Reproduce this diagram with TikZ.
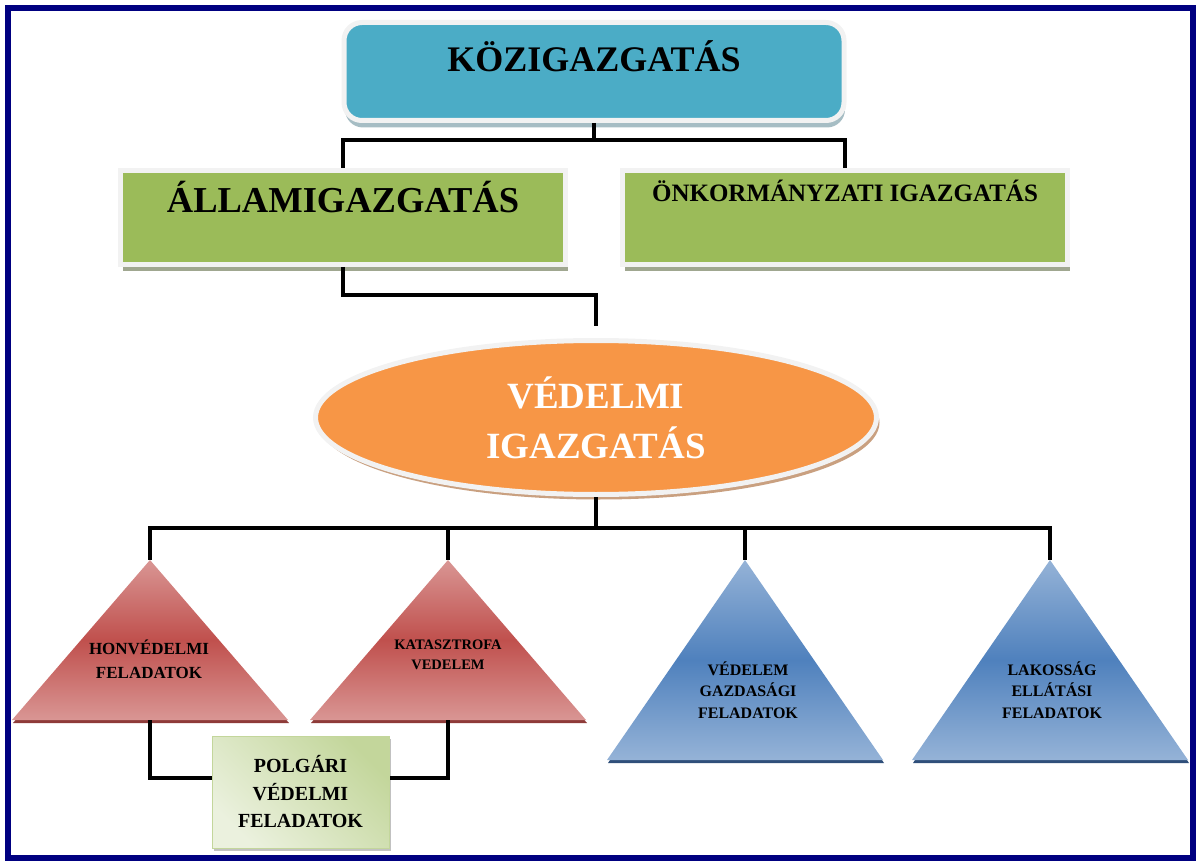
\documentclass[tikz,border=0pt]{standalone}
\usepackage{fontspec}
\setmainfont{Liberation Serif}
\usetikzlibrary{shapes.geometric,shadows,positioning}

\definecolor{kozkek}{HTML}{4BACC6}
\definecolor{zold}{HTML}{9BBB59}
\definecolor{perem}{HTML}{F2F2F2}
\definecolor{narancs}{HTML}{F79646}
\definecolor{narancsarny}{HTML}{C9A080}
\definecolor{pirosvil}{HTML}{D99694}
\definecolor{pirossot}{HTML}{C0504D}
\definecolor{pirosarny}{HTML}{8E3B39}
\definecolor{kekvil}{HTML}{95B3D7}
\definecolor{keksot}{HTML}{4F81BD}
\definecolor{kekarny}{HTML}{2F4F7A}
\definecolor{polgvil}{HTML}{EBF1DE}
\definecolor{polgsot}{HTML}{C3D69B}
\definecolor{keret}{HTML}{000080}

\begin{document}
\begin{tikzpicture}[x=1pt,y=-1pt,
  conn/.style={line width=4pt,black},
  fobox/.style={rectangle,rounded corners=18pt,fill=kozkek,draw=perem,line width=5pt,
    minimum width=500pt,minimum height=98pt,inner sep=0pt,
    drop shadow={shadow xshift=1pt,shadow yshift=-7pt,fill=gray!60!kozkek,opacity=.6}},
  zoldbox/.style={rectangle,fill=zold,draw=perem,line width=5pt,
    minimum width=445pt,minimum height=94pt,inner sep=0pt,
    drop shadow={shadow xshift=2pt,shadow yshift=-7pt,fill=gray!70!zold,opacity=.8}},
  ellip/.style={ellipse,fill=narancs,draw=perem,line width=5pt,
    minimum width=561pt,minimum height=154pt,inner sep=0pt,text=white,
    drop shadow={shadow xshift=3pt,shadow yshift=-5pt,fill=narancsarny,opacity=1}},
  piros/.style={top color=pirosvil,bottom color=pirosvil,middle color=pirossot,
    drop shadow={shadow xshift=1pt,shadow yshift=-3pt,fill=pirosarny,opacity=1}},
  kek/.style={top color=kekvil,bottom color=kekvil,middle color=keksot,
    drop shadow={shadow xshift=1pt,shadow yshift=-3pt,fill=kekarny,opacity=1}},
  feladat/.style={align=center,inner sep=0pt},
  polgbox/.style={rectangle,top color=polgsot,bottom color=polgvil,shading angle=-45,
    draw=polgsot,line width=1pt,minimum width=177pt,minimum height=112pt,align=center,
    drop shadow={shadow xshift=2pt,shadow yshift=-3pt,fill=gray!60,opacity=.8}}]
 \useasboundingbox (0,0) rectangle (1200,861);
 \draw[keret,line width=6pt] (8,8) rectangle (1193,858);
 %NODES
 \node[fobox,text height=26pt,text depth=25pt,font=\bfseries\fontsize{36}{40}\selectfont]
   (koz) at (594,71.5) {KÖZIGAZGATÁS};
 \node[zoldbox,text height=28pt,text depth=37pt,font=\bfseries\fontsize{36.5}{40}\selectfont]
   (allami) at (343,217.5) {ÁLLAMIGAZGATÁS};
 \node[zoldbox,text height=20pt,text depth=51pt,font=\bfseries\fontsize{25}{28}\selectfont]
   (onkorm) at (845,217.5) {ÖNKORMÁNYZATI IGAZGATÁS};
 \node[ellip,align=center,font=\bfseries\fontsize{37}{50}\selectfont]
   (vedelmi) at (596,417.5) {VÉDELMI\\IGAZGATÁS};
 % triangles
 \path[piros] (150,560) coordinate (honv-t) -- (288,720) -- (150,720) coordinate (honv-b) -- (12,720) -- cycle;
 \path[piros] (448,560) coordinate (katv-t) -- (586,720) -- (448,720) coordinate (katv-b) -- (310,720) -- cycle;
 \path[kek] (745,560) coordinate (gazd-t) -- (883,760) -- (607,760) -- cycle;
 \path[kek] (1050,560) coordinate (lakos-t) -- (1188,760) -- (912,760) -- cycle;
 \node[feladat,font=\bfseries\fontsize{17}{24}\selectfont] (honv) at (149,659) {HONVÉDELMI\\FELADATOK};
 \node[feladat,font=\bfseries\fontsize{14.5}{20}\selectfont] (katv) at (448,655) {KATASZTROFA\\VEDELEM};
 \node[feladat,font=\bfseries\fontsize{16}{21.5}\selectfont] (gazd) at (748,690) {VÉDELEM\\GAZDASÁGI\\FELADATOK};
 \node[feladat,font=\bfseries\fontsize{16}{21.5}\selectfont] (lakos) at (1052,690) {LAKOSSÁG\\ELLÁTÁSI\\FELADATOK};
 \node[polgbox,font=\bfseries\fontsize{20}{27.5}\selectfont] (polg) at (300.5,792) {POLGÁRI\\VÉDELMI\\FELADATOK};
 %EDGES
 \draw[conn] (koz.south) -- ++(0,17);
 \draw[conn] (allami.north) -- ++(0,-28) -| (onkorm.north);
 \draw[conn] (allami.south) -- ++(0,28) -| ([yshift=12pt]vedelmi.north);
 \draw[conn] (vedelmi.south) -- ++(0,31) coordinate (busz);
 \draw[conn] (honv-t) |- (busz) -| (lakos-t);
 \draw[conn] (katv-t) -- (katv-t |- busz);
 \draw[conn] (gazd-t) -- (gazd-t |- busz);
 \draw[conn] (honv-b) |- ([yshift=14pt]polg.west);
 \draw[conn] (katv-b) |- ([yshift=14pt]polg.east);
\end{tikzpicture}
\end{document}
